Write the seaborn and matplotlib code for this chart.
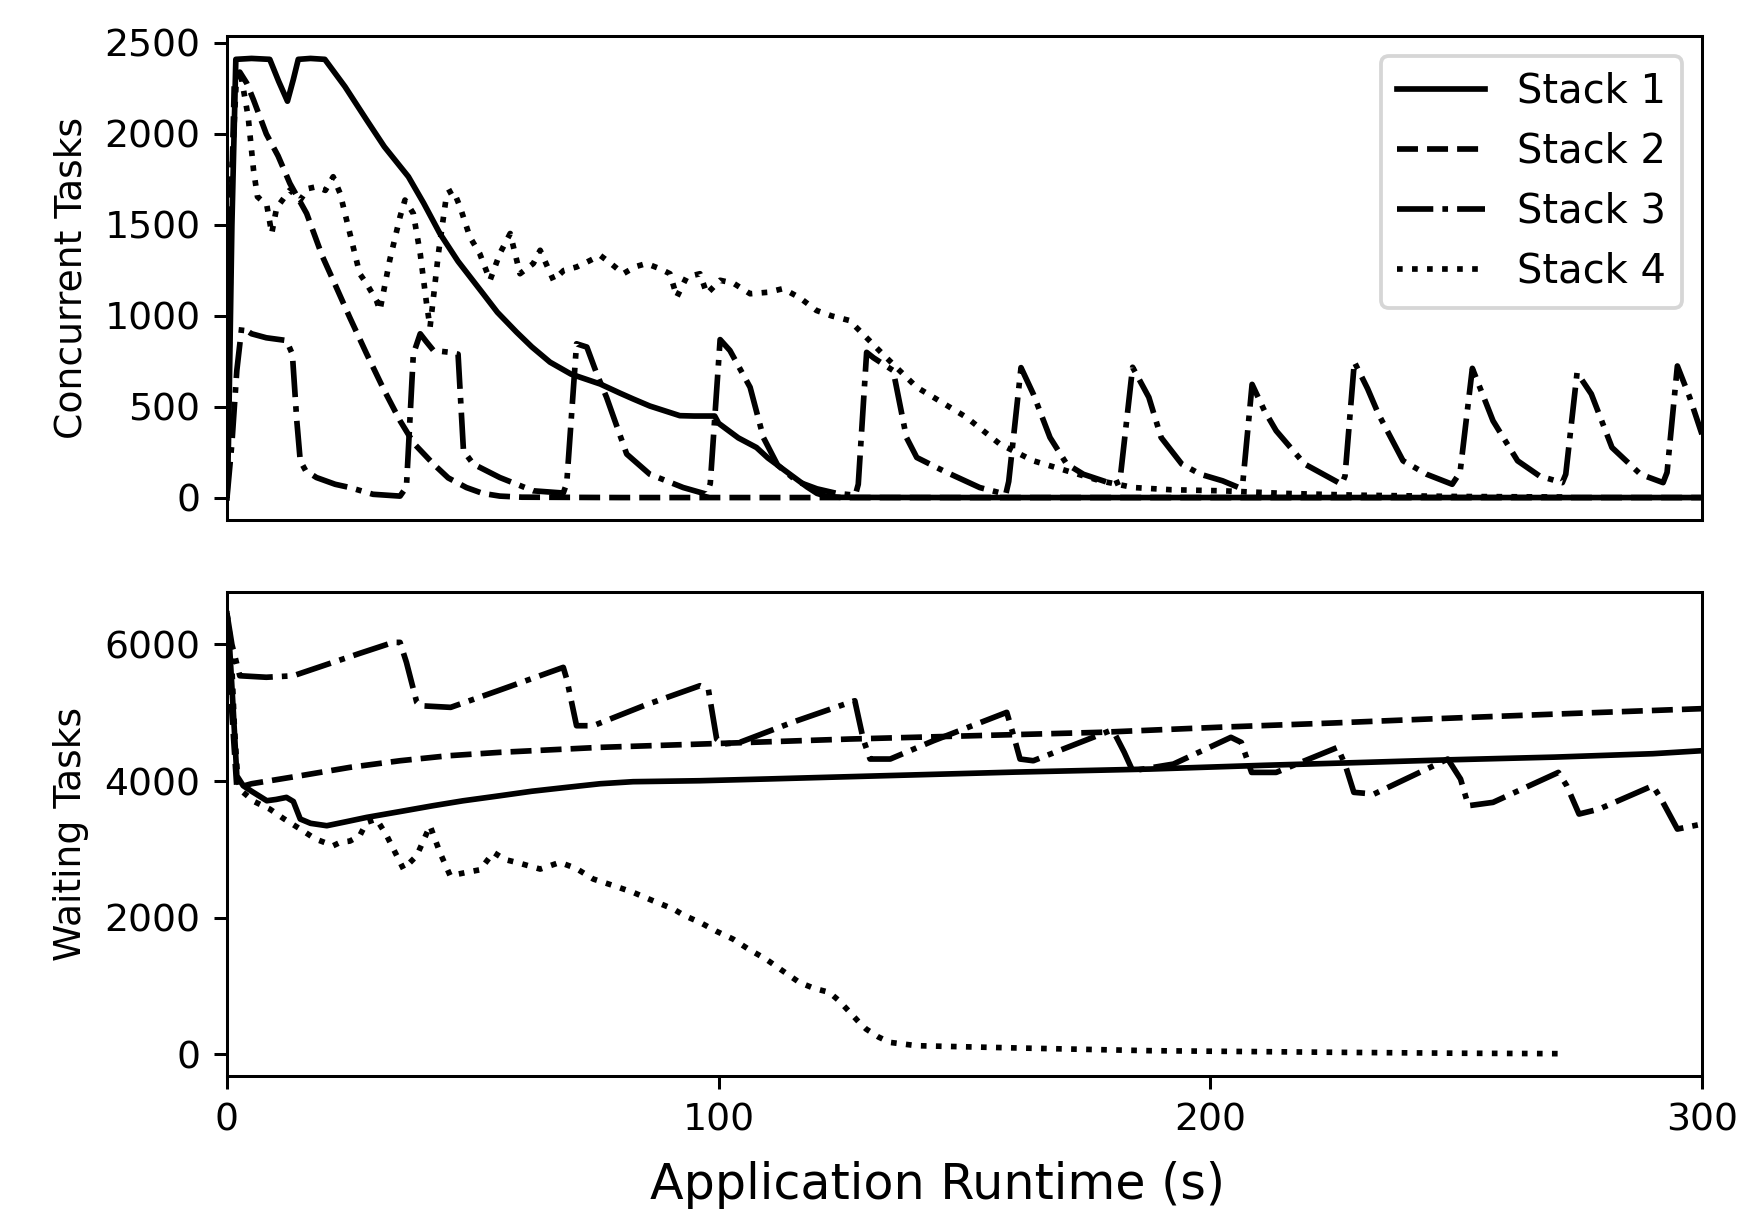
import pandas as pd
import matplotlib
matplotlib.use("Agg")
import matplotlib.pyplot as plt
import seaborn as sns

stacks = ["Stack 1", "Stack 2", "Stack 3", "Stack 4"]

# --- Concurrent tasks (top panel) ---
conc_s1_t = [0, 0.3, 1.0, 1.8, 5, 8.7, 10.5, 12.3, 13.5, 14.5, 17, 19.9, 24, 28.4, 32, 36.9, 40, 43.3,
             47, 52.1, 55, 58.9, 62, 65.7, 70, 75.9, 80, 82.6, 86, 92.1, 95, 99.2, 100, 102, 104, 107.7,
             110, 114.5, 118, 120, 122, 125, 150, 200, 250, 300]
conc_s1_v = [0, 300, 1500, 2410, 2415, 2410, 2290, 2180, 2300, 2410, 2415, 2410, 2260, 2077, 1930, 1765,
             1620, 1453, 1300, 1122, 1020, 911, 830, 746, 680, 626, 575, 544, 505, 452, 450, 450, 410, 370,
             330, 277, 220, 130, 60, 25, 8, 3, 2, 2, 2, 2]

conc_s2_t = [0, 0.8, 1.5, 2.6, 4, 5.4, 8, 10.4, 12.8, 16.2, 19.4, 21.6, 25, 28.4, 32, 35.2, 38, 42, 45,
             48.7, 52, 55.5, 60, 80, 120, 200, 300]
conc_s2_v = [0, 1500, 2300, 2340, 2280, 2187, 2000, 1879, 1728, 1563, 1328, 1196, 990, 792, 590, 424, 300,
             186, 110, 57, 25, 10, 4, 2, 2, 2, 2]

conc_s3_t = [0, 1, 2, 3, 5, 8, 12.1, 13.3, 14.2, 14.9, 16, 18.2, 22, 25, 29.7, 35.2, 36.5, 37.9, 39.3,
             40.5, 42, 45.4, 47.0, 48.1, 50.1, 55.5, 62.3, 68.4, 69.1, 71.1, 73.2, 75.2, 77.2, 81.3, 86.0,
             92.8, 97.6, 98.3, 100.3, 102.3, 106.4, 109.1, 112, 116, 120, 124, 127.8, 128.4, 130.1, 131.5,
             135.5, 138.2, 140.3, 145.7, 153.1, 158.4, 159, 161.5, 164, 167.4, 170.8, 174.2, 180.3, 181.6,
             184.2, 187.5, 190, 194.2, 198, 202.5, 205.8, 206.6, 208.5, 211, 213.4, 219.2, 226.7, 227.4,
             229.3, 232, 234.2, 239.2, 244, 249.2, 250.8, 253.3, 257.5, 262.5, 267, 271.6, 272.3, 274.6,
             277.5, 281.7, 287.5, 292.1, 292.9, 295.0, 297.5, 300]
conc_s3_v = [0, 300, 700, 938, 902, 880, 865, 790, 424, 204, 150, 112, 75, 57, 20, 10, 60, 790, 902,
             860, 810, 800, 790, 259, 186, 112, 39, 27, 80, 847, 829, 683, 553, 241, 130,
             57, 20, 80, 870, 810, 608, 332, 180, 90, 50, 25, 15, 75, 800, 770,
             700, 332, 222, 149, 57, 20, 90, 716, 571, 332, 186, 130, 75, 90,
             718, 553, 332, 186, 130, 94, 57, 80, 624, 480, 369, 186, 75, 120,
             747, 600, 461, 204, 130, 75, 140, 712, 424, 204, 120, 84, 130, 688,
             571, 277, 130, 84, 140, 725, 553, 350]

conc_s4_t = [0, 1, 2, 3, 4.3, 5.4, 6.2, 8.1, 9.1, 10.1, 12.8, 14.9, 16.5, 18.2, 20, 21.6, 23.0, 25.0,
             27.0, 28.4, 30.4, 31.1, 33.1, 35.2, 36.2, 37.9, 39.3, 40.6, 41.3, 42.0, 43.0, 44.7, 46.0,
             47.4, 49.4, 51.4, 53.5, 55.5, 57.6, 59.6, 62.3, 63.7, 66.4, 68.5, 71.1, 73.5, 75.9, 78, 80.6,
             83, 85.3, 88, 90.1, 91.5, 93.5, 96.2, 97.6, 100.3, 103, 106.4, 110, 113.1, 116.5, 119.9, 123,
             126.6, 130.0, 133.4, 136.8, 140.3, 143.7, 150.4, 157.2, 164, 170.8, 177.6, 184.4, 192, 202.5,
             215, 230, 250, 272]
conc_s4_v = [0, 1800, 2353, 2298, 2096, 1802, 1655, 1609, 1453, 1594, 1692, 1637, 1700, 1710, 1690, 1765,
             1674, 1453, 1232, 1177, 1085, 1030, 1306, 1545, 1637, 1563, 1343, 1067, 938, 1104, 1343, 1673,
             1692, 1600, 1434, 1343, 1196, 1343, 1453, 1232, 1288, 1361, 1196, 1250, 1269, 1300, 1333, 1290,
             1232, 1270, 1288, 1260, 1232, 1104, 1214, 1232, 1122, 1196, 1180, 1122, 1130, 1150, 1100, 1030,
             1000, 975, 883, 790, 700, 608, 553, 443, 296, 204, 149, 94, 57, 45, 39, 25, 15, 8, 5]

# --- Waiting tasks (bottom panel) ---
wait_s1_t = [0, 0.5, 1.3, 2.0, 3.3, 5, 8.1, 10, 12.1, 13.5, 14.9, 17, 20.3, 24, 28.4, 35, 41.9, 48, 55.5,
             62, 69.1, 75.9, 82.6, 96.2, 110, 133.4, 160, 187.7, 210.9, 230, 248.3, 270, 290, 300]
wait_s1_v = [6450, 6000, 5006, 4077, 3931, 3850, 3711, 3730, 3760, 3700, 3443, 3380, 3345, 3400, 3467, 3550,
             3638, 3710, 3784, 3850, 3907, 3960, 3990, 4004, 4030, 4077, 4130, 4175, 4230, 4270, 4310, 4350,
             4400, 4444]

wait_s2_t = [0, 1, 2, 5, 14.9, 25, 35.2, 45, 55.5, 75.9, 96.2, 126.7, 150, 177.5, 202.5, 225, 244.2, 270, 300]
wait_s2_v = [6450, 5000, 3900, 3960, 4077, 4200, 4297, 4370, 4420, 4493, 4541, 4615, 4660, 4713, 4790, 4850,
             4908, 4980, 5060]

wait_s3_t = [0, 1, 2.6, 8, 13.5, 20, 27, 33.8, 35.2, 36.5, 38.6, 39.3, 45.5, 55, 68.4, 69.1, 71.1, 74.5, 85,
             96.2, 97.9, 99.6, 100.9, 104.3, 115, 126.7, 127.7, 129.4, 130.8, 134.9, 143.7, 158.6, 160, 161.3,
             164, 179.6, 180.5, 182.5, 184.2, 192.5, 204.2, 206.3, 208.4, 213.4, 225.9, 227.5, 229.2, 233.3,
             248.3, 250.9, 252.5, 257.5, 270.8, 272.5, 275, 279.1, 290, 291.7, 295, 300]
wait_s3_v = [6450, 6000, 5542, 5520, 5542, 5700, 5870, 6031, 6031, 5738, 5152, 5103, 5079, 5320, 5665, 5494,
             4810, 4810, 5110, 5396, 5347, 4615, 4541, 4566, 4860, 5152, 5176, 4615, 4322, 4322, 4590, 5006,
             4663, 4322, 4297, 4737, 4700, 4420, 4150, 4248, 4640, 4566, 4126, 4126, 4493, 4224, 3834, 3809,
             4322, 4029, 3638, 3687, 4126, 3931, 3516, 3589, 3931, 3736, 3296, 3369]

wait_s4_t = [0, 0.8, 1.5, 2.2, 3.3, 5.5, 8.7, 11.5, 14.9, 18, 21.6, 23.0, 25, 27.0, 28.4, 30.4, 32.5, 35.9,
             38.6, 41.3, 43.3, 45.4, 48.7, 51.5, 54.2, 56.5, 58.9, 63.7, 67.7, 71, 74.5, 78.5, 82.6, 86.5,
             90.8, 93, 96.2, 99.5, 102.9, 106, 109.6, 113, 116.4, 119.5, 122.5, 124.5, 126.7, 128.5, 130,
             132.5, 134.8, 140.3, 160, 187.7, 210, 227.5, 250, 272]
wait_s4_v = [6450, 6000, 4800, 4000, 3834, 3700, 3589, 3450, 3296, 3150, 3052, 3100, 3120, 3198, 3394, 3443,
             3198, 2710, 2906, 3345, 2955, 2612, 2661, 2700, 2955, 2850, 2808, 2710, 2808, 2720, 2564, 2470,
             2369, 2250, 2124, 2030, 1929, 1800, 1685, 1540, 1392, 1220, 1050, 960, 904, 780, 611, 470, 366,
             250, 171, 122, 90, 49, 35, 24, 12, 5]


def to_long(series, value_name):
    frames = []
    for name, (t, v) in zip(stacks, series):
        frames.append(pd.DataFrame({"Time": t, value_name: v, "Stack": name}))
    return pd.concat(frames, ignore_index=True)


conc = to_long([(conc_s1_t, conc_s1_v), (conc_s2_t, conc_s2_v),
                (conc_s3_t, conc_s3_v), (conc_s4_t, conc_s4_v)], "Concurrent")
wait = to_long([(wait_s1_t, wait_s1_v), (wait_s2_t, wait_s2_v),
                (wait_s3_t, wait_s3_v), (wait_s4_t, wait_s4_v)], "Waiting")

# matplotlib's '-', '--', '-.', ':' patterns
dash_styles = ["", (3.7, 1.6), (6.4, 1.6, 1.0, 1.6), (1.0, 1.65)]

fig = plt.figure(figsize=(6.4, 4.4528), dpi=272.19)
ax1 = fig.add_axes([0.1303, 0.5710, 0.8467, 0.3997])
ax2 = fig.add_axes([0.1303, 0.1122, 0.8467, 0.3994])

sns.lineplot(data=conc, x="Time", y="Concurrent", style="Stack", style_order=stacks,
             dashes=dash_styles, color="black", linewidth=1.5, estimator=None, sort=False, ax=ax1)
sns.lineplot(data=wait, x="Time", y="Waiting", style="Stack", style_order=stacks,
             dashes=dash_styles, color="black", linewidth=1.5, estimator=None, sort=False,
             legend=False, ax=ax2)

sns.move_legend(ax1, "upper right", title=None, fontsize=10.6, handlelength=2.2)

ax1.set_xlim(0, 300)
ax1.set_ylim(-121, 2541)
ax1.set_yticks([0, 500, 1000, 1500, 2000, 2500])
ax1.tick_params(axis="x", bottom=False, labelbottom=False)
ax1.set_xlabel("")
ax1.set_ylabel("Concurrent Tasks")

ax2.set_xlim(0, 300)
ax2.set_ylim(-322, 6770)
ax2.set_xticks([0, 100, 200, 300])
ax2.set_yticks([0, 2000, 4000, 6000])
ax2.set_ylabel("Waiting Tasks")
ax2.set_xlabel("Application Runtime (s)", fontsize=13, labelpad=6, x=0.482)

fig.savefig("out.png", dpi=272.19)
